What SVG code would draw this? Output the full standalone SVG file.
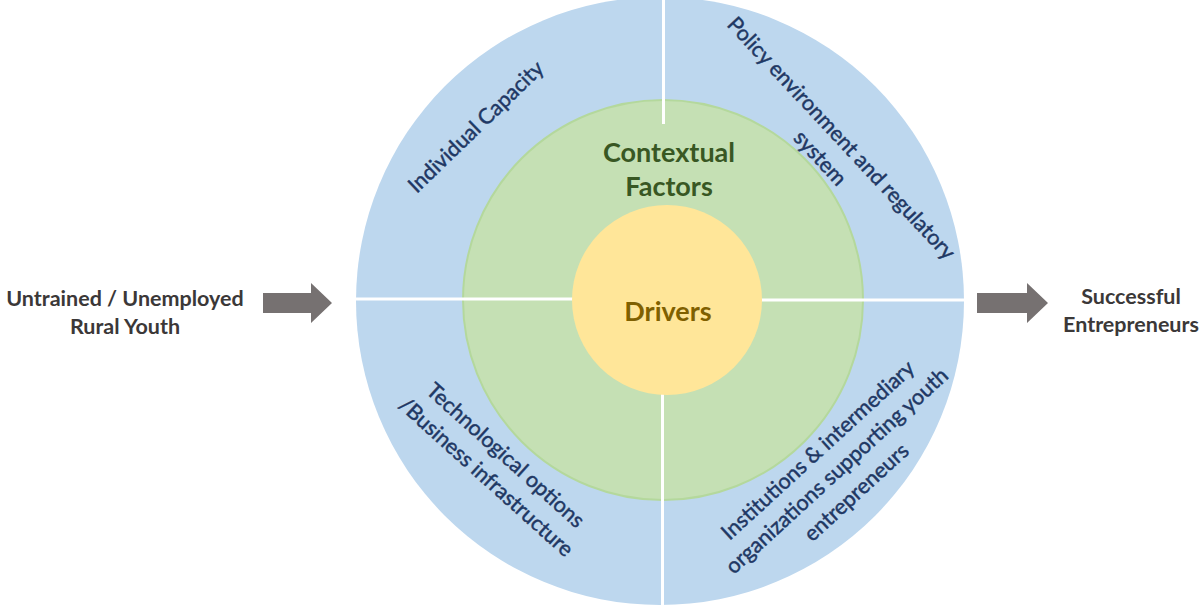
<svg xmlns="http://www.w3.org/2000/svg" width="1200" height="606" viewBox="0 0 1200 606">
<style>
.lbl{font-family:Lato,"Open Sans","Liberation Sans",sans-serif;font-weight:bold;fill:#3b3838;font-size:21.5px;text-anchor:middle}
.ring{font-family:Lato,"Open Sans","Liberation Sans",sans-serif;fill:#1f3864;stroke:#1f3864;stroke-width:0.45;font-size:21.5px;text-anchor:middle}
.big{font-family:Lato,"Open Sans","Liberation Sans",sans-serif;font-weight:bold;font-size:27px;text-anchor:middle}
.gap{stroke:#ffffff;stroke-width:3;fill:none}
.arr{fill:#767171}
</style>
<rect width="1200" height="606" fill="#ffffff"/>
<g id="outer-ring">
<circle cx="660" cy="301" r="304" fill="#bdd7ee"/>
</g>
<g id="contextual-factors">
<circle cx="663" cy="300" r="200" fill="#c5e0b4" stroke="#b4d89c" stroke-width="2"/>
<text class="big" x="669" y="162" fill="#385723">Contextual</text>
<text class="big" x="669" y="196" fill="#385723">Factors</text>
</g>
<g id="gaps">
<line class="gap" x1="663.5" y1="0" x2="663.5" y2="124"/>
<line class="gap" x1="355" y1="299" x2="573" y2="299"/>
<line class="gap" x1="761" y1="300" x2="966" y2="300"/>
<line class="gap" x1="662.5" y1="394" x2="662.5" y2="606"/>
</g>
<g id="drivers">
<circle cx="667" cy="300" r="95" fill="#ffe699"/>
<text class="big" x="668" y="321" fill="#7f6000">Drivers</text>
</g>
<g id="individual-capacity" transform="translate(476,127) rotate(-44)">
<text class="ring" x="0" y="7">Individual Capacity</text>
</g>
<g id="policy-environment" transform="translate(831,148) rotate(47)">
<text class="ring" x="0" y="-7">Policy environment and regulatory</text>
<text class="ring" x="0" y="22">system</text>
</g>
<g id="technological-options" transform="translate(496,466) rotate(42)">
<text class="ring" x="0" y="-7">Technological options</text>
<text class="ring" x="0" y="22">/Business infrastructure</text>
</g>
<g id="institutions" transform="translate(837,471) rotate(-42.5)">
<text class="ring" x="0" y="-21">Institutions &amp; intermediary</text>
<text class="ring" x="0" y="7">organizations supporting youth</text>
<text class="ring" x="0" y="36">entrepreneurs</text>
</g>
<g id="untrained-youth">
<text class="lbl" x="125" y="306">Untrained / Unemployed</text>
<text class="lbl" x="125" y="334">Rural Youth</text>
</g>
<g id="successful-entrepreneurs">
<text class="lbl" x="1131" y="304">Successful</text>
<text class="lbl" x="1131" y="332">Entrepreneurs</text>
</g>
<g id="connectors">
<polygon class="arr" points="263,293 311,293 311,283 332,303 311,323 311,313 263,313"/>
<polygon class="arr" points="977,293 1027,293 1027,283 1048,303 1027,323 1027,313 977,313"/>
</g>
</svg>
